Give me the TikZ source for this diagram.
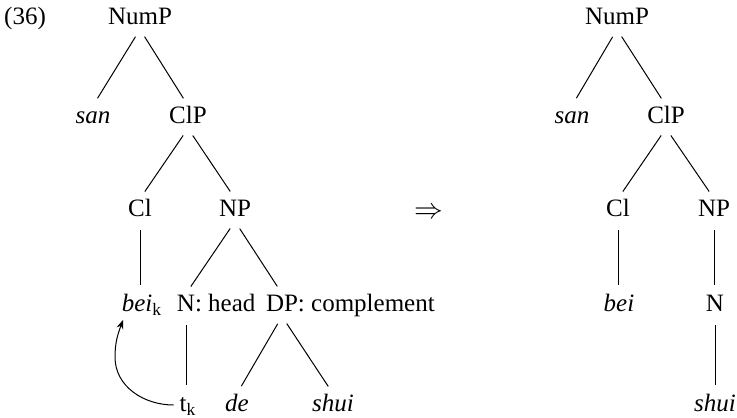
\documentclass[tikz,border=0pt]{standalone}
\usepackage{fontspec}
\setmainfont{Liberation Serif}
\usetikzlibrary{arrows.meta}
\begin{document}
\begin{tikzpicture}[x=0.5pt,y=0.5pt,
  tn/.style={inner sep=0pt, outer sep=0pt, text height=8.8pt, text depth=2.6pt, font=\fontsize{12.5}{15}\selectfont},
  lab/.style={inner sep=0pt, outer sep=0pt, font=\fontsize{12.5}{15}\selectfont},
  br/.style={line width=0.5pt, shorten <=4.3pt, shorten >=4.3pt},
  mv/.style={line width=0.5pt, -{Stealth[length=4.5pt,width=3.5pt]}}]
\useasboundingbox (0,0) rectangle (737,-417);
% example number
\node[tn] (ex) at (25,-18) {(36)};
% left tree
\node[tn] (numL) at (140,-18) {NumP};
\node[tn] (sanL) at (93,-117) {\textit{san}};
\node[tn] (clpL) at (188,-117) {ClP};
\node[tn] (clL) at (140,-210) {Cl};
\node[tn] (npL) at (235,-210) {NP};
\node[tn] (beik) at (142,-305) {\textit{bei}\textsubscript{k}};
\node[tn] (N) at (186,-305) {N};
\node[lab, anchor=base west] (head) at (N.base east) {:~head};
\node[tn] (DP) at (282,-305) {DP};
\node[lab, anchor=base west] (comp) at (DP.base east) {:~complement};
\node[tn] (tk) at (188,-405) {t\textsubscript{k}};
\node[tn] (de) at (237,-405) {\textit{de}};
\node[tn] (shuiL) at (333,-405) {\textit{shui}};
\draw[br] (numL.south) -- (sanL.north);
\draw[br] (numL.south) -- (clpL.north);
\draw[br] (clpL.south) -- (clL.north);
\draw[br] (clpL.south) -- (npL.north);
\draw[br] (clL.south) -- (clL.south |- beik.north);
\draw[br] (npL.south) -- (N.north);
\draw[br] (npL.south) -- (DP.north);
\draw[br] (N.south) -- (N.south |- tk.north);
\draw[br] (DP.south) -- (de.north);
\draw[br] (DP.south) -- (shuiL.north);
% movement arrow
\coordinate (bend) at (115,-357);
\coordinate (tip) at (123,-320);
\draw[mv] ([xshift=-3]tk.west) to[out=180,in=-90] (bend) to[out=90,in=250] (tip);
% derivation arrow
\node[inner sep=0pt, font=\fontsize{15}{18}\selectfont] (arr) at (429,-213) {$\Rightarrow$};
% right tree
\node[tn] (numR) at (617,-18) {NumP};
\node[tn] (sanR) at (572,-117) {\textit{san}};
\node[tn] (clpR) at (666,-117) {ClP};
\node[tn] (clR) at (618,-210) {Cl};
\node[tn] (npR) at (714,-210) {NP};
\node[tn] (beiR) at (619,-305) {\textit{bei}};
\node[tn] (NR) at (715,-305) {N};
\node[tn] (shuiR) at (715,-405) {\textit{shui}};
\draw[br] (numR.south) -- (sanR.north);
\draw[br] (numR.south) -- (clpR.north);
\draw[br] (clpR.south) -- (clR.north);
\draw[br] (clpR.south) -- (npR.north);
\draw[br] (clR.south) -- (clR.south |- beiR.north);
\draw[br] (npR.south) -- (npR.south |- NR.north);
\draw[br] (NR.south) -- (NR.south |- shuiR.north);
\end{tikzpicture}
\end{document}
